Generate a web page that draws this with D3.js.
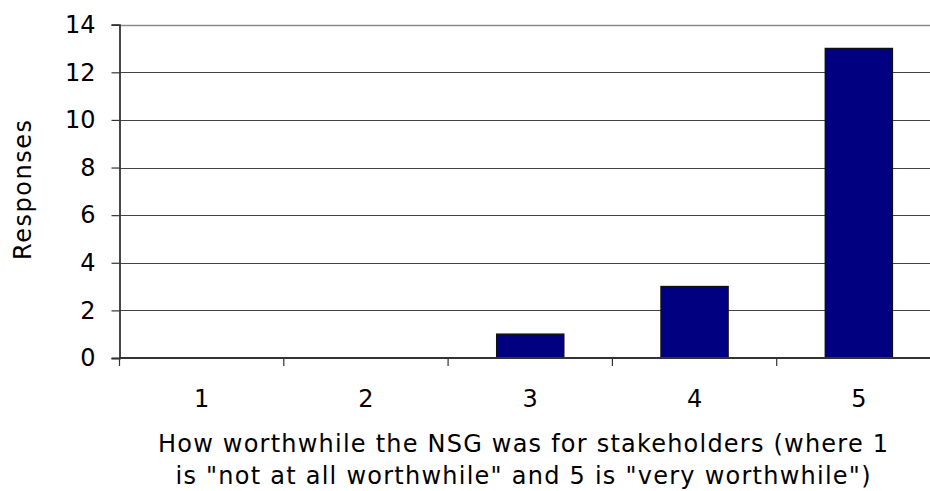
<!DOCTYPE html>
<html>
<head>
<meta charset="utf-8">
<script src="https://cdn.jsdelivr.net/npm/d3@7"></script>
<style>
  body { margin: 0; background: #fff; }
  text { font-family: "DejaVu Sans", Verdana, sans-serif; fill: #000; }
</style>
</head>
<body>
<div id="chart"></div>
<script>
const WIDTH = 930, HEIGHT = 491;
const categories = ["1", "2", "3", "4", "5"];
const responses = [0, 0, 1, 3, 13];
const yTicks = [0, 2, 4, 6, 8, 10, 12, 14];
const yLabel = "Responses";
const xLabelLines = [
    "How worthwhile the NSG was for stakeholders (where 1",
    "is \"not at all worthwhile\" and 5 is \"very worthwhile\")"
];

const PLOT_LEFT = 119.5, PLOT_RIGHT = 941, PLOT_TOP = 24.7, PLOT_BOT = 358;
const FONT = 24;

const svg = d3.select("#chart").append("svg")
    .attr("width", WIDTH)
    .attr("height", HEIGHT)

const x = d3.scaleBand()
    .domain(categories)
    .range([PLOT_LEFT, PLOT_RIGHT])
    .paddingInner(0.592)
    .paddingOuter(0.296)
const y = d3.scaleLinear()
    .domain([0, 14])
    .range([PLOT_BOT, PLOT_TOP])

// gridlines
svg.append("g")
    .selectAll("line")
    .data(yTicks.filter(t => t > 0))
    .join("line")
    .attr("x1", PLOT_LEFT)
    .attr("x2", PLOT_RIGHT)
    .attr("y1", d => Math.round(y(d)) + 0.5)
    .attr("y2", d => Math.round(y(d)) + 0.5)
    .attr("stroke", d => d === 14 ? "#8a8a8a" : "#444")
    .attr("stroke-width", d => d === 14 ? 1.6 : 1)

// bars
svg.append("g")
    .selectAll("rect")
    .data(responses.map((v, i) => ({ cat: categories[i], v })).filter(d => d.v > 0))
    .join("rect")
    .attr("x", d => x(d.cat))
    .attr("width", x.bandwidth())
    .attr("y", d => y(d.v))
    .attr("height", d => y(0) - y(d.v))
    .attr("fill", "#000080")
    .attr("stroke", "#111")
    .attr("stroke-width", 1.5)

// y axis
const yAxis = svg.append("g")
    .attr("transform", `translate(${PLOT_LEFT},0)`)
    .call(d3.axisLeft(y).tickValues(yTicks).tickSize(8).tickPadding(16))
yAxis.select(".domain").attr("stroke", "#333").attr("stroke-width", 1.8)
yAxis.selectAll(".tick line").attr("stroke", "#333").attr("stroke-width", 1.2)
yAxis.selectAll(".tick text")
    .style("font-size", FONT + "px")
    .attr("font-family", null)

// x axis (ticks at category boundaries)
const boundaries = d3.range(categories.length + 1).map(i => PLOT_LEFT + i * x.step())
svg.append("line")
    .attr("x1", PLOT_LEFT).attr("x2", PLOT_RIGHT)
    .attr("y1", PLOT_BOT).attr("y2", PLOT_BOT)
    .attr("stroke", "#333").attr("stroke-width", 1.8)
svg.append("g")
    .selectAll("line")
    .data(boundaries)
    .join("line")
    .attr("x1", d => d).attr("x2", d => d)
    .attr("y1", PLOT_BOT).attr("y2", PLOT_BOT + 8)
    .attr("stroke", "#333").attr("stroke-width", 1.2)
svg.append("g")
    .selectAll("text")
    .data(categories)
    .join("text")
    .attr("x", d => x(d) + x.bandwidth() / 2)
    .attr("y", 407)
    .attr("text-anchor", "middle")
    .style("font-size", FONT + "px")
    .text(d => d)

// axis titles
svg.append("text")
    .attr("transform", "translate(31,190) rotate(-90)")
    .attr("text-anchor", "middle")
    .attr("textLength", 140)
    .attr("lengthAdjust", "spacing")
    .style("font-size", FONT + "px")
    .text(yLabel)

const titleWidths = [730, 695]
svg.append("g")
    .selectAll("text")
    .data(xLabelLines)
    .join("text")
    .attr("x", 523)
    .attr("y", (d, i) => 452 + i * 32)
    .attr("text-anchor", "middle")
    .attr("textLength", (d, i) => titleWidths[i])
    .attr("lengthAdjust", "spacing")
    .style("font-size", FONT + "px")
    .text(d => d)
</script>
</body>
</html>
